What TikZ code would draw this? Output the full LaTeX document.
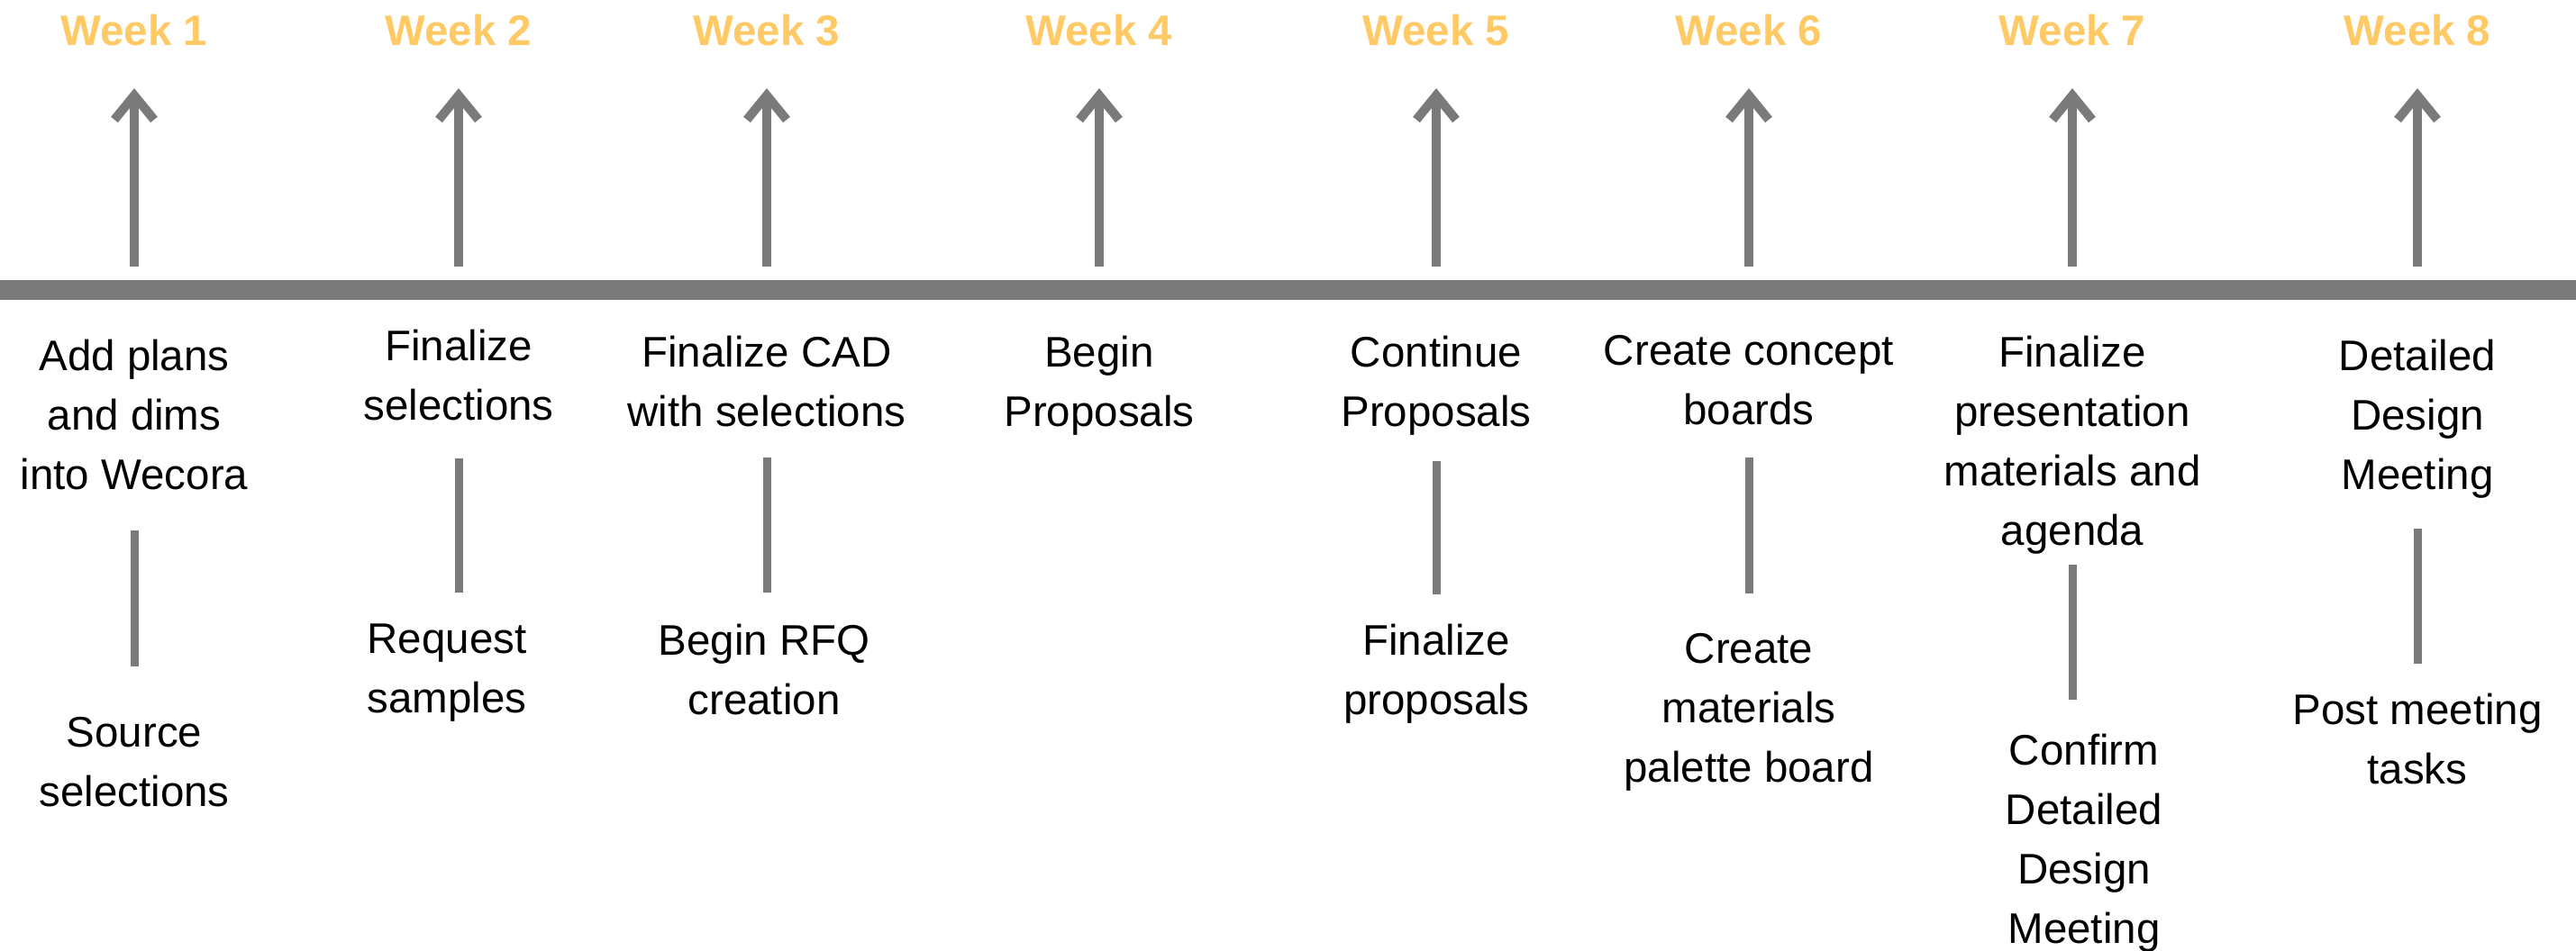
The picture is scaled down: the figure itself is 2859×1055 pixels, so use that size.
\documentclass[tikz,border=0pt]{standalone}
\usepackage{fontspec}
\setmainfont{Liberation Sans}
\usetikzlibrary{arrows.meta}
\definecolor{tlgray}{RGB}{122,122,122}
\definecolor{wkorange}{RGB}{255,201,102}
\tikzset{
	wklabel/.style={font=\fontsize{47.5}{66}\selectfont\bfseries, text=wkorange, anchor=base, inner sep=0},
	task/.style={font=\fontsize{47.5}{66}\selectfont, align=center, anchor=north, inner sep=0},
	wkarrow/.style={draw=tlgray, line width=10pt, -{Straight Barb[length=27pt, width=44pt]}},
	sepline/.style={draw=tlgray, line width=9pt}
}
\begin{document}
\begin{tikzpicture}[x=1pt, y=-1pt]
		\useasboundingbox (0,0) rectangle (2859,1055);

		\fill[tlgray] (0,311) rectangle (2859,333);

		\node[wklabel] (w1) at (149,50) {Week 1};
		\node[wklabel] (w2) at (509,50) {Week 2};
		\node[wklabel] (w3) at (851,50) {Week 3};
		\node[wklabel] (w4) at (1220,50) {Week 4};
		\node[wklabel] (w5) at (1594,50) {Week 5};
		\node[wklabel] (w6) at (1941,50) {Week 6};
		\node[wklabel] (w7) at (2300,50) {Week 7};
		\node[wklabel] (w8) at (2683,50) {Week 8};

		\coordinate (b1) at (149,296);  \coordinate (t1) at (149,98);
		\coordinate (b2) at (509,296);  \coordinate (t2) at (509,98);
		\coordinate (b3) at (851,296);  \coordinate (t3) at (851,98);
		\coordinate (b4) at (1220,296); \coordinate (t4) at (1220,98);
		\coordinate (b5) at (1594,296); \coordinate (t5) at (1594,98);
		\coordinate (b6) at (1941,296); \coordinate (t6) at (1941,98);
		\coordinate (b7) at (2300,296); \coordinate (t7) at (2300,98);
		\coordinate (b8) at (2683,296); \coordinate (t8) at (2683,98);

		\draw[wkarrow] (b1) -- (t1);
		\draw[wkarrow] (b2) -- (t2);
		\draw[wkarrow] (b3) -- (t3);
		\draw[wkarrow] (b4) -- (t4);
		\draw[wkarrow] (b5) -- (t5);
		\draw[wkarrow] (b6) -- (t6);
		\draw[wkarrow] (b7) -- (t7);
		\draw[wkarrow] (b8) -- (t8);

		\node[task] (up1) at (149,376.5) {Add plans\\and dims\\into Wecora};
		\node[task] (up2) at (509,365.5) {Finalize\\selections};
		\node[task] (up3) at (851,372.5) {Finalize CAD\\with selections};
		\node[task] (up4) at (1220,372.5) {Begin\\Proposals};
		\node[task] (up5) at (1594,372.5) {Continue\\Proposals};
		\node[task] (up6) at (1941,372.5) {Create concept\\boards};
		\node[task] (up7) at (2300,372.5) {Finalize\\presentation\\materials and\\agenda};
		\node[task] (up8) at (2683,376.5) {Detailed\\Design\\Meeting};

		\node[task] (lo1) at (149,796.5) {Source\\selections};
		\node[task] (lo2) at (496,692.5) {Request\\samples};
		\node[task] (lo3) at (848,692.5) {Begin RFQ\\creation};
		\node[task] (lo5) at (1594,692.5) {Finalize\\proposals};
		\node[task] (lo6) at (1941,703.5) {Create\\materials\\palette board};
		\node[task] (lo7) at (2313,814.5) {Confirm\\Detailed\\Design\\Meeting};
		\node[task] (lo8) at (2683,769.5) {Post meeting\\tasks};

		\coordinate (s1a) at (149,589);  \coordinate (s1b) at (149,740);
		\coordinate (s2a) at (509,509);  \coordinate (s2b) at (509,658);
		\coordinate (s3a) at (851,508);  \coordinate (s3b) at (851,658);
		\coordinate (s5a) at (1594,512); \coordinate (s5b) at (1594,660);
		\coordinate (s6a) at (1941,508); \coordinate (s6b) at (1941,659);
		\coordinate (s7a) at (2300,627); \coordinate (s7b) at (2300,777);
		\coordinate (s8a) at (2683,587); \coordinate (s8b) at (2683,737);

		\draw[sepline] (s1a) -- (s1b);
		\draw[sepline] (s2a) -- (s2b);
		\draw[sepline] (s3a) -- (s3b);
		\draw[sepline] (s5a) -- (s5b);
		\draw[sepline] (s6a) -- (s6b);
		\draw[sepline] (s7a) -- (s7b);
		\draw[sepline] (s8a) -- (s8b);
	\end{tikzpicture}
\end{document}
